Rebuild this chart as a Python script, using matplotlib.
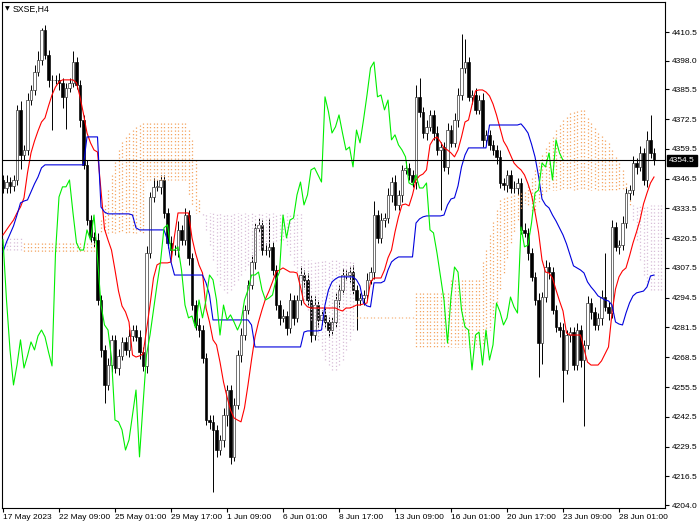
import matplotlib
matplotlib.use("Agg")
import matplotlib.pyplot as plt
import numpy as np
from matplotlib.collections import LineCollection
import matplotlib.transforms as mtransforms

# ---------------- data ----------------
symbol = "SXSE,H4"
last_price = 4354.5
first_open = 4345.9

close = [
    4342.4, 4345.0, 4343.3, 4345.9, 4376.5, 4356.8, 4359.0, 4380.8, 4385.2, 4393.1,
    4398.3, 4411.4, 4400.5, 4389.6, 4389.6, 4389.6, 4388.3, 4382.2, 4386.1, 4388.3,
    4397.4, 4387.4, 4372.1, 4352.5, 4328.4, 4321.0, 4319.7, 4293.5, 4271.7, 4256.4,
    4265.1, 4276.1, 4263.8, 4269.1, 4275.2, 4271.7, 4277.8, 4280.4, 4277.4, 4270.8,
    4264.7, 4314.0, 4338.5, 4342.9, 4342.9, 4345.9, 4331.5, 4318.4, 4315.3, 4315.3,
    4324.1, 4319.7, 4330.6, 4311.9, 4291.3, 4282.6, 4280.4, 4268.2, 4241.1, 4240.3,
    4236.8, 4228.0, 4232.4, 4243.3, 4254.2, 4225.0, 4247.7, 4269.5, 4278.2, 4289.2,
    4300.1, 4310.1, 4325.0, 4326.3, 4315.3, 4315.3, 4316.7, 4306.6, 4291.3, 4285.7,
    4286.5, 4281.3, 4293.5, 4285.7, 4293.5, 4304.4, 4302.3, 4293.5, 4278.2, 4291.3,
    4284.8, 4287.0, 4283.9, 4280.4, 4283.9, 4293.5, 4297.9, 4304.4, 4304.4, 4305.7,
    4297.9, 4293.5, 4294.4, 4295.7, 4302.3, 4305.7, 4330.6, 4320.6, 4328.4, 4329.3,
    4339.4, 4345.0, 4335.0, 4339.4, 4350.3, 4351.2, 4348.1, 4345.0, 4382.2, 4375.6,
    4366.4, 4369.1, 4374.3, 4366.4, 4359.0, 4360.3, 4351.6, 4367.7, 4362.1, 4372.1,
    4383.0, 4394.8, 4397.4, 4382.2, 4383.0, 4376.5, 4380.8, 4363.4, 4365.6, 4361.2,
    4359.0, 4356.0, 4344.6, 4343.7, 4348.1, 4342.4, 4342.4, 4344.6, 4324.1, 4322.8,
    4314.0, 4303.6, 4293.5, 4274.7, 4294.8, 4307.9, 4305.7, 4289.2, 4281.7, 4280.4,
    4263.0, 4278.2, 4279.5, 4265.1, 4280.4, 4267.3, 4273.9, 4292.2, 4288.3, 4282.6,
    4285.7, 4294.8, 4290.5, 4287.8, 4325.4, 4316.7, 4317.5, 4327.1, 4340.2, 4341.5,
    4353.3, 4351.6, 4357.7, 4345.9, 4363.4, 4357.7, 4354.5,
]

upper_wick = [
    2, 3, 2, 2, 2, 4, 2, 3, 2, 3,
    4, 1, 2, 2, 2, 2, 3, 2, 2, 2,
    5, 2, 2, 2, 2, 2, 2, 3, 2, 2,
    3, 2, 2, 3, 2, 2, 3, 2, 2, 3,
    2, 3, 2, 4, 3, 2, 2, 2, 3, 2,
    4, 2, 3, 2, 2, 2, 3, 2, 2, 2,
    3, 2, 2, 3, 2, 2, 3, 2, 3, 2,
    2, 3, 2, 3, 2, 3, 12, 2, 2, 2,
    3, 2, 3, 2, 2, 4, 2, 3, 2, 4,
    2, 2, 3, 2, 2, 3, 2, 3, 2, 2,
    3, 2, 2, 2, 3, 2, 6, 2, 3, 2,
    3, 2, 3, 2, 2, 3, 2, 2, 5, 8,
    2, 3, 2, 2, 3, 2, 2, 3, 2, 3,
    3, 15, 10, 2, 2, 3, 2, 3, 2, 2,
    2, 2, 3, 2, 2, 2, 3, 2, 2, 3,
    2, 2, 2, 3, 2, 3, 2, 2, 2, 2,
    3, 2, 2, 2, 3, 2, 2, 3, 2, 2,
    2, 3, 19, 2, 3, 2, 2, 3, 2, 2,
    3, 2, 3, 2, 4, 11, 2,
]

lower_wick = [
    2, 2, 3, 2, 2, 6, 2, 2, 2, 2,
    2, 2, 2, 3, 22, 2, 3, 5, 14, 2,
    2, 2, 3, 2, 2, 2, 3, 2, 3, 8,
    2, 3, 2, 3, 2, 2, 3, 2, 2, 3,
    2, 3, 2, 2, 2, 3, 2, 2, 3, 2,
    3, 2, 2, 3, 2, 2, 3, 2, 2, 3,
    27, 3, 2, 3, 5, 3, 2, 2, 3, 2,
    2, 2, 3, 2, 2, 2, 3, 2, 2, 3,
    2, 3, 2, 3, 2, 2, 3, 2, 3, 2,
    3, 2, 2, 3, 2, 2, 3, 2, 2, 3,
    2, 13, 2, 3, 2, 2, 3, 2, 2, 3,
    2, 3, 2, 2, 3, 2, 2, 2, 3, 2,
    2, 3, 2, 3, 2, 26, 2, 3, 2, 2,
    3, 2, 2, 2, 3, 2, 2, 3, 2, 2,
    2, 3, 2, 2, 3, 2, 2, 3, 2, 2,
    3, 2, 2, 15, 9, 2, 3, 2, 2, 3,
    14, 2, 3, 2, 2, 3, 29, 2, 3, 2,
    2, 3, 2, 3, 2, 2, 3, 2, 2, 3,
    2, 3, 2, 2, 3, 2, 2,
]

tenkan = [
    4321.9, 4324.1, 4326.3, 4328.4, 4331.5, 4334.1, 4338.1, 4349.0, 4357.7, 4362.9,
    4367.3, 4371.2, 4373.0, 4378.2, 4383.0, 4386.5, 4388.7, 4389.6, 4389.6, 4389.6,
    4389.6, 4388.3, 4382.2, 4374.7, 4366.4, 4362.1, 4359.0, 4358.1, 4341.5, 4324.5,
    4319.7, 4315.3, 4306.6, 4297.4, 4290.9, 4288.3, 4283.9, 4269.5, 4268.6, 4269.1,
    4269.9, 4280.4, 4291.3, 4303.1, 4308.8, 4309.7, 4309.7, 4309.7, 4310.1, 4321.5,
    4331.5, 4331.5, 4331.5, 4331.5, 4320.6, 4314.0, 4308.8, 4305.3, 4290.0, 4283.9,
    4276.1, 4273.9, 4266.4, 4257.7, 4251.2, 4245.5, 4242.0, 4241.1, 4240.3, 4246.4,
    4256.4, 4267.3, 4277.4, 4283.9, 4289.2, 4294.0, 4297.4, 4301.4, 4305.7, 4306.6,
    4307.5, 4306.6, 4305.7, 4305.7, 4305.3, 4299.2, 4292.2, 4290.5, 4290.0, 4290.0,
    4290.0, 4290.0, 4290.0, 4290.0, 4290.0, 4290.0, 4289.2, 4288.7, 4290.0, 4290.0,
    4290.5, 4291.3, 4291.3, 4291.8, 4292.2, 4301.4, 4303.1, 4303.1, 4303.1, 4306.6,
    4311.9, 4315.3, 4323.2, 4329.8, 4335.0, 4335.4, 4334.6, 4339.4, 4345.9, 4347.7,
    4348.5, 4350.3, 4361.2, 4363.8, 4364.7, 4362.5, 4359.9, 4359.0, 4357.7, 4356.0,
    4359.0, 4364.7, 4371.2, 4372.1, 4378.7, 4384.8, 4385.2, 4385.2, 4384.3, 4382.6,
    4379.1, 4374.3, 4368.6, 4362.9, 4360.3, 4356.8, 4353.3, 4351.6, 4350.3, 4348.1,
    4344.2, 4339.4, 4331.9, 4323.2, 4311.0, 4305.7, 4305.3, 4303.1, 4297.9, 4293.1,
    4288.7, 4279.1, 4278.2, 4278.2, 4278.2, 4278.2, 4272.1, 4266.4, 4265.1, 4265.1,
    4265.1, 4266.9, 4269.9, 4273.0, 4287.8, 4298.3, 4303.6, 4306.2, 4307.5, 4312.7,
    4318.4, 4323.2, 4328.4, 4335.4, 4340.2, 4344.6, 4347.2,
]

kijun = (
    [4314.5, 4318.8, 4322.3, 4325.8, 4330.6, 4335.9, 4336.7, 4337.2, 4340.7, 4344.2,
     4347.2, 4351.2] + [4352.5] * 12 + [4364.7] * 4 + [4334.1, 4331.9]
    + [4331.1] * 7 + [4330.6, 4325.0] + [4324.1] * 8 + [4319.7, 4310.1]
    + [4304.4] * 9 + [4301.0, 4295.7] + [4284.8] * 11 + [4282.6] + [4273.0] * 14
    + [4279.5] + [4280.0] * 4 + [4280.4, 4291.3, 4297.9, 4301.4, 4302.7] + [4303.6] * 5
    + [4302.3, 4299.6, 4292.2, 4290.9, 4290.5] + [4301.0] * 3 + [4301.8, 4306.6, 4310.1, 4311.4]
    + [4312.3] * 5 + [4327.1, 4328.9, 4329.8] + [4330.2] * 5 + [4330.6, 4335.0, 4337.6, 4338.1,
    4343.3, 4351.6, 4356.8] + [4359.9] * 6 + [4369.9] * 9
    + [4370.4, 4368.6, 4366.4, 4361.6, 4356.0, 4347.7, 4337.6, 4335.0, 4333.7, 4330.6,
       4328.0, 4325.0, 4321.9, 4318.0, 4313.2, 4308.4, 4307.5, 4306.6, 4305.3, 4301.4,
       4299.2, 4297.4, 4295.3, 4294.4, 4293.5, 4293.1, 4291.3, 4283.9, 4283.0, 4282.6,
       4287.8, 4292.2, 4295.3, 4296.6, 4297.0, 4297.4, 4299.2, 4304.0, 4304.4]
)

span_a = (
    [4315.3] * 6 + [4318.4] * 21
    + [4322.8, 4328.4, 4335.0, 4341.5, 4348.1, 4353.8, 4359.0, 4362.5, 4364.7, 4366.4,
       4367.7, 4369.1, 4369.9, 4370.8]
    + [4370.8] * 12 + [4367.7, 4363.4, 4354.6]
    + [4337.2, 4330.6, 4324.1, 4317.5, 4311.0, 4304.4, 4300.1, 4297.9, 4296.6, 4297.9]
    + [4300.1, 4302.3, 4304.4, 4306.6, 4308.8, 4311.0, 4313.2, 4315.3, 4316.7, 4317.5,
       4318.4, 4318.8, 4319.3, 4319.7, 4319.7]
    + [4317.5, 4313.2, 4308.8, 4304.4, 4300.1]
    + [4293.5, 4289.2, 4284.8, 4280.4, 4276.1, 4271.7, 4267.3, 4265.1, 4263.0, 4263.0,
       4265.1, 4267.3, 4271.7, 4276.1, 4280.4]
    + [4286.1] * 17 + [4296.6] * 10 + [4302.3] * 9
    + [4310.1, 4315.3, 4321.9, 4327.6, 4332.8, 4337.2, 4338.1, 4338.5, 4338.9, 4339.4,
       4339.8, 4340.2, 4340.7, 4343.3, 4346.8, 4350.3, 4353.8, 4356.8, 4359.9, 4362.5,
       4364.7, 4367.7, 4369.9, 4372.1, 4373.4, 4375.2, 4375.6, 4376.0, 4376.5, 4376.5,
       4373.0, 4370.8, 4368.6, 4366.4, 4365.1, 4363.4, 4362.1, 4359.0, 4356.0, 4353.3,
       4350.3, 4344.6, 4337.2, 4328.4, 4319.7, 4311.0, 4304.4, 4300.1]
    + [4297.9] * 5
)

span_b = (
    [4321.0] * 6 + [4314.5] * 21 + [4322.8] * 14 + [4345.9] * 12
    + [4339.4, 4335.0, 4331.5] + [4331.5] * 30 + [4311.0] * 15 + [4285.7] * 17
    + [4273.0] * 19
    + [4273.9, 4276.1, 4280.4, 4285.7, 4291.3, 4297.9, 4304.4, 4311.0, 4317.5, 4323.2,
       4328.4, 4332.8, 4335.9, 4334.1, 4331.5, 4332.8, 4335.9, 4338.5, 4340.2]
    + [4341.5] * 23 + [4335.0] * 11
)

y_ticks = [4410.5, 4398.0, 4385.5, 4372.5, 4359.5, 4346.5, 4333.5, 4320.5, 4307.5,
           4294.5, 4281.5, 4268.5, 4255.5, 4242.5, 4229.5, 4216.5, 4204.0]
x_tick_bars = [0, 16, 32, 48, 64, 80, 96, 112, 128, 144, 160, 176]
x_tick_labels = ["17 May 2023", "22 May 09:00", "25 May 01:00", "29 May 17:00",
                 "1 Jun 09:00", "6 Jun 01:00", "8 Jun 17:00", "13 Jun 09:00",
                 "16 Jun 01:00", "20 Jun 17:00", "23 Jun 09:00", "28 Jun 01:00"]
chikou_shift = 26

# ---------------- figure ----------------
plt.rcParams['font.family'] = ['Liberation Sans', 'DejaVu Sans']

W, H = 700, 525
fig = plt.figure(figsize=(W / 100, H / 100), dpi=100, facecolor='white')
left_px, right_px, top_px, bottom_px = 2.0, 665.0, 2.3, 507.5
ax = fig.add_axes([left_px / W, (H - bottom_px) / H,
                   (right_px - left_px) / W, (bottom_px - top_px) / H])
ax.set_facecolor('white')

n = len(close)
idx = np.arange(n)
c = np.array(close, dtype=float)
o = np.r_[first_open, c[:-1]]
hi = np.maximum(o, c) + np.array(upper_wick, dtype=float)
lo = np.minimum(o, c) - np.array(lower_wick, dtype=float)

# candles
ax.vlines(idx, lo, hi, color='black', lw=0.7, zorder=2)
bull = c >= o
body_b = np.minimum(o, c)
body_h = np.maximum(np.abs(c - o), 0.15)
ax.bar(idx[bull], body_h[bull], bottom=body_b[bull], width=0.72,
       color='white', edgecolor='#222222', linewidth=0.45, zorder=3)
ax.bar(idx[~bull], body_h[~bull], bottom=body_b[~bull], width=0.72,
       color='black', edgecolor='black', linewidth=0.45, zorder=3)

# cloud (dotted vertical histogram per bar)
sa = np.array(span_a, dtype=float)
sb = np.array(span_b, dtype=float)
cidx = np.arange(len(sa))
segs = [[(i, a), (i, b)] for i, a, b in zip(cidx, sa, sb)]
cols = ['#f4a460' if a >= b else '#d8bfd8' for a, b in zip(sa, sb)]
lc = LineCollection(segs, colors=cols, linewidths=0.9,
                    linestyles=[(0, (1, 1.8))], zorder=4)
ax.add_collection(lc)

# ichimoku lines
ax.plot(idx, tenkan[:n], color='red', lw=0.8, zorder=5)
ax.plot(idx, kijun[:n], color='#0000dd', lw=0.8, zorder=5)
ax.plot(idx[:-chikou_shift], c[chikou_shift:], color='#00ee00', lw=0.8, zorder=5)

# current price line
ax.axhline(last_price, color='black', lw=0.8, zorder=6)

# axes limits
bar_px = 3.5
x0_px = 3.0
ax.set_xlim((left_px - x0_px) / bar_px, (right_px - x0_px) / bar_px)
ppu = (505.0 - 32.0) / (4410.5 - 4204.0)
top_price = 4410.5 + (32.0 - top_px) / ppu
bot_price = 4204.0 - (bottom_px - 505.0) / ppu
ax.set_ylim(bot_price, top_price)

# ticks
ax.yaxis.tick_right()
ax.set_yticks(y_ticks)
ax.set_yticklabels([f"{v:.1f}" for v in y_ticks])
ax.tick_params(axis='y', direction='out', length=3, width=0.8, pad=2,
               labelsize=6, colors='black')
ax.set_xticks(x_tick_bars)
ax.set_xticklabels(x_tick_labels)
ax.tick_params(axis='x', direction='out', length=3, width=0.8, pad=1.5,
               labelsize=6, colors='black')
for lbl in ax.get_xticklabels():
    lbl.set_ha('left')
for s in ax.spines.values():
    s.set_color('black')
    s.set_linewidth(0.8)

# current price tag
trans = mtransforms.blended_transform_factory(ax.transAxes, ax.transData)
ax.text(1.0 + 4.0 / (right_px - left_px), last_price, f"{last_price:.1f}",
        transform=trans, ha='left', va='center', fontsize=6, color='white',
        bbox=dict(boxstyle='square,pad=0.25', fc='black', ec='black'),
        zorder=10, clip_on=False)

# title
fig.text(5 / W, 1 - 9 / H, "\u25BC", fontsize=4.5, va='center', ha='left',
         family='DejaVu Sans')
fig.text(13 / W, 1 - 9 / H, symbol, fontsize=6.3, va='center', ha='left')

fig.savefig("out.png", dpi=100, facecolor='white')
